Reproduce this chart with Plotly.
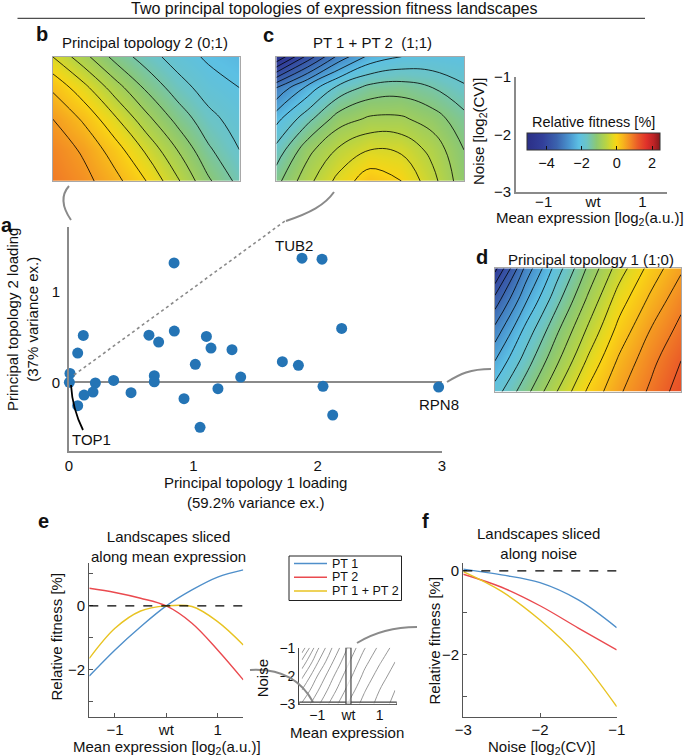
import plotly.graph_objects as go

W, H = 685, 756
FONT = "Liberation Sans, Arial, Helvetica, sans-serif"

# ---------------- data ----------------
# Panel a: gene loadings on the two principal topologies
pt1_loading = [0.845, 1.874, 2.035, 2.193, 0.115, 0.070, 0.643, 0.721, 0.847, 1.105,
               1.142, 1.311, 1.016, 1.716, 1.845, 0.008, 0.003, 0.212, 0.359, 0.686,
               0.686, 1.381, 0.499, 0.193, 0.121, 0.070, 0.925, 1.198, 2.043, 2.121,
               2.973, 1.054]
pt2_loading = [1.320, 1.372, 1.361, 0.596, 0.519, 0.324, 0.522, 0.445, 0.567, 0.508,
               0.379, 0.361, 0.199, 0.228, 0.188, 0.099, 0.000, -0.007, 0.022, 0.074,
               0.007, 0.059, -0.114, -0.107, -0.140, -0.258, -0.180, -0.070, -0.044, -0.361,
               -0.052, -0.497]
labelled_genes = {"TUB2": 1, "RPN8": 30, "TOP1": 16}

# Landscape grids (mean expression x noise)
mean_grid = [-1.5, -1.0, -0.5, 0.0, 0.5, 1.0, 1.5]
noise_grid = [-3.0, -2.5, -2.0, -1.5, -1.0]
pt1_landscape = [
    [-1.95, -1.3, -0.6, 0.05, 0.55, 0.95, 1.35],
    [-2.4, -1.65, -0.95, -0.25, 0.35, 0.8, 1.2],
    [-2.9, -2.0, -1.25, -0.55, 0.1, 0.6, 1.0],
    [-3.5, -2.45, -1.6, -0.85, -0.15, 0.35, 0.8],
    [-4.3, -2.9, -1.95, -1.15, -0.45, 0.1, 0.55],
]
pt2_landscape = [
    [0.9, 0.7, 0.4, 0.0, -0.55, -1.15, -1.6],
    [0.8, 0.55, 0.15, -0.35, -0.9, -1.45, -1.8],
    [0.6, 0.25, -0.25, -0.8, -1.3, -1.7, -1.95],
    [0.25, -0.2, -0.75, -1.25, -1.65, -1.95, -2.1],
    [-0.3, -0.8, -1.3, -1.65, -1.95, -2.15, -2.25],
]
pt12_landscape = [
    [-1.3, -0.7, -0.2, 0.2, 0.0, -0.5, -1.1],
    [-1.7, -1.0, -0.55, -0.3, -0.35, -0.7, -1.2],
    [-2.2, -1.6, -1.05, -0.85, -0.85, -1.05, -1.4],
    [-3.0, -2.3, -1.7, -1.4, -1.35, -1.5, -1.75],
    [-4.8, -3.8, -2.9, -2.3, -2.1, -2.05, -2.1],
]

# Panel e: slices along mean expression (noise = -3)
slice_mean = [-1.5, -1.0, -0.5, 0.0, 0.5, 1.0, 1.5]
slice_mean_pt1 = [-2.19, -1.375, -0.65, 0.0, 0.5, 0.9, 1.125]
slice_mean_pt2 = [0.55, 0.42, 0.24, 0.0, -0.54, -1.375, -2.31]
slice_mean_pt12 = [-1.64, -0.70, -0.16, 0.0, -0.02, -0.49, -1.22]
# Panel f: slices along noise (mean = wt)
slice_noise = [-3.0, -2.5, -2.0, -1.5, -1.0]
slice_noise_pt1 = [0.04, -0.095, -0.28, -0.69, -1.35]
slice_noise_pt2 = [-0.08, -0.39, -0.83, -1.36, -1.88]
slice_noise_pt12 = [-0.02, -0.49, -1.17, -2.04, -3.23]

series_names = ["PT 1", "PT 2", "PT 1 + PT 2"]
series_colors = ["#4f8fca", "#ea4a4f", "#e8c322"]

# ---------------- style helpers ----------------
ZMIN, ZMAX = -5.1, 2.46
stops = [(-5.1, '#2b2f86'), (-4.2, '#323f9a'), (-3.4, '#3b63ae'), (-2.7, '#4a95cf'),
         (-2.15, '#5cc0e4'), (-1.7, '#6cc4c6'), (-1.15, '#8cc873'), (-0.6, '#b9d443'),
         (-0.2, '#e6d820'), (0.0, '#f9d416'), (0.35, '#f7b51d'), (0.75, '#f38b24'),
         (1.2, '#ea5a28'), (1.7, '#e0302a'), (2.1, '#bd2326'), (2.46, '#85191c')]
colorscale = [[(v - ZMIN) / (ZMAX - ZMIN), c] for v, c in stops]
colorscale[-1][0] = 1.0

GRAY = '#8a8a8a'
AX = '#555555'


def dx(x0, x1):
    return [x0 / W, x1 / W]


def dy(top, bot):
    return [1 - bot / H, 1 - top / H]


def px(x, y):
    return f"{x / W:.5f},{1 - y / H:.5f}"


def tf(size=15):
    return dict(family=FONT, size=size, color='#111')


fig = go.Figure()

# Panel a scatter
fig.add_trace(go.Scatter(x=pt1_loading, y=pt2_loading, mode='markers',
                         marker=dict(size=11, color='#2474b5'), cliponaxis=False,
                         xaxis='x', yaxis='y', showlegend=False, hoverinfo='skip'))

contour_levels = dict(start=-6, end=3, size=0.3)
for grid, ax in [(pt2_landscape, '2'), (pt12_landscape, '3'), (pt1_landscape, '4')]:
    fig.add_trace(go.Heatmap(x=mean_grid, y=noise_grid, z=grid, zsmooth='best',
                             coloraxis='coloraxis', xaxis='x' + ax, yaxis='y' + ax,
                             hoverinfo='skip'))
    fig.add_trace(go.Contour(x=mean_grid, y=noise_grid, z=grid, contours=contour_levels,
                             contours_coloring='none', line=dict(color='black', width=0.8, smoothing=1.2),
                             showscale=False, xaxis='x' + ax, yaxis='y' + ax, hoverinfo='skip'))

# key axes (empty)
fig.add_trace(go.Scatter(x=[None], y=[None], xaxis='x5', yaxis='y5', showlegend=False))

# Panel e
for ys, name, col in zip([slice_mean_pt1, slice_mean_pt2, slice_mean_pt12], series_names, series_colors):
    fig.add_trace(go.Scatter(x=slice_mean, y=ys, mode='lines', name=name,
                             line=dict(color=col, width=1.4, shape='spline', smoothing=1),
                             xaxis='x6', yaxis='y6', showlegend=False, hoverinfo='skip'))

# inset contour (PT1 landscape)
fig.add_trace(go.Contour(x=mean_grid, y=noise_grid, z=pt1_landscape, contours=dict(start=-6, end=3, size=0.4),
                         contours_coloring='none', line=dict(color='#8c8c8c', width=0.9, smoothing=1.2),
                         showscale=False, xaxis='x7', yaxis='y7', hoverinfo='skip'))

# Panel f
for ys, name, col in zip([slice_noise_pt1, slice_noise_pt2, slice_noise_pt12], series_names, series_colors):
    fig.add_trace(go.Scatter(x=slice_noise, y=ys, mode='lines', name=name,
                             line=dict(color=col, width=1.4, shape='spline', smoothing=1),
                             xaxis='x8', yaxis='y8', showlegend=False, hoverinfo='skip'))

hm_axis = dict(showticklabels=False, ticks='', showgrid=False, zeroline=False,
               showline=True, mirror=True, linecolor='#a8a8a8', linewidth=1)

layout = dict(
    width=W, height=H, margin=dict(l=0, r=0, t=0, b=0, pad=0),
    paper_bgcolor='white', plot_bgcolor='white', font=dict(family=FONT, size=15, color='#111'),
    showlegend=False,
    coloraxis=dict(colorscale=colorscale, cmin=ZMIN, cmax=ZMAX,
                   colorbar=dict(orientation='h', x=593.6 / W, xanchor='center', y=1 - 132.7 / H,
                                 yanchor='top', len=132.7, lenmode='pixels', thickness=16.6,
                                 thicknessmode='pixels', xpad=0, ypad=0, outlinewidth=1,
                                 outlinecolor='#333', ticks='inside', ticklen=4, tickcolor='#111',
                                 tickvals=[-4, -2, 0, 2], ticktext=['−4', '−2', '0', '2'],
                                 tickfont=tf(14.5), title=dict(text=''))),
    xaxis=dict(domain=dx(69, 442), range=[0, 3], anchor='y', showline=True, linecolor=GRAY,
               linewidth=1.6, ticks='', tickvals=[0, 1, 2, 3], showgrid=False, zeroline=False,
               tickfont=tf(), automargin=False),
    yaxis=dict(domain=dy(226.7, 450.7), range=[-0.755, 1.72], anchor='x', showline=True,
               linecolor=GRAY, linewidth=1.6, ticks='', tickvals=[0, 1], showgrid=False,
               zeroline=True, zerolinecolor=GRAY, zerolinewidth=1.6, tickfont=tf(),
               ticklabelstandoff=4, automargin=False),
    xaxis2=dict(domain=dx(52.6, 239.5), range=[-1.5, 1.5], anchor='y2', **hm_axis),
    yaxis2=dict(domain=dy(56.7, 181), range=[-3, -1], anchor='x2', **hm_axis),
    xaxis3=dict(domain=dx(276.3, 464), range=[-1.5, 1.5], anchor='y3', **hm_axis),
    yaxis3=dict(domain=dy(56.7, 181), range=[-3, -1], anchor='x3', **hm_axis),
    xaxis4=dict(domain=dx(495, 681), range=[-1.5, 1.5], anchor='y4', **hm_axis),
    yaxis4=dict(domain=dy(268.3, 391.7), range=[-3, -1], anchor='x4', **hm_axis),
    xaxis5=dict(domain=dx(516, 666.7), range=[-1.56, 1.49], anchor='y5', showline=True,
                linecolor=GRAY, linewidth=1.6, ticks='', tickvals=[-1, 0, 1],
                ticktext=['−1', 'wt', '1'], showgrid=False, zeroline=False, tickfont=tf(),
                ticklabelstandoff=-5, automargin=False),
    yaxis5=dict(domain=dy(76.7, 192), range=[-3, -1], anchor='x5', showline=True,
                linecolor=GRAY, linewidth=1.6, ticks='', tickvals=[-3, -2, -1],
                ticktext=['−3', '−2', '−1'], showgrid=False, zeroline=False, tickfont=tf(),
                automargin=False),
    xaxis6=dict(domain=dx(89.3, 243.3), range=[-1.5, 1.5], anchor='y6', showline=True,
                linecolor=AX, linewidth=1.2, ticks='inside', ticklen=4, tickcolor=AX,
                tickvals=[-1, 0, 1], ticktext=['−1', 'wt', '1'], showgrid=False, zeroline=False,
                tickfont=tf(), ticklabelstandoff=-1, automargin=False),
    yaxis6=dict(domain=dy(563, 717.3), range=[-3.48, 1.34], anchor='x6', showline=True,
                linecolor=AX, linewidth=1.2, ticks='inside', ticklen=4, tickcolor=AX,
                tickvals=[-3, -2, -1, 0, 1], ticktext=['', '−2', '', '0', ''], showgrid=False,
                zeroline=False, tickfont=tf(), automargin=False),
    xaxis7=dict(domain=dx(299.3, 396.7), range=[-1.58, 1.55], anchor='y7', showline=True,
                linecolor='#444', linewidth=1.2, ticks='', tickvals=[-1, 0, 1],
                ticktext=['−1', 'wt', '1'], showgrid=False, zeroline=False, tickfont=tf(14),
                ticklabelstandoff=-2, automargin=False),
    yaxis7=dict(domain=dy(647.7, 704.3), range=[-3, -1], anchor='x7', showline=True,
                linecolor='#444', linewidth=1.2, ticks='', tickvals=[-3, -2, -1],
                ticktext=['−3', '−2', '−1'], showgrid=False, zeroline=False, tickfont=tf(14),
                automargin=False),
    xaxis8=dict(domain=dx(463.3, 616.7), range=[-3, -1], anchor='y8', showline=True,
                linecolor=AX, linewidth=1.2, ticks='inside', ticklen=4, tickcolor=AX,
                tickvals=[-3, -2, -1], ticktext=['−3', '−2', '−1'], showgrid=False,
                zeroline=False, tickfont=tf(), ticklabelstandoff=-1, automargin=False),
    yaxis8=dict(domain=dy(563.3, 716.7), range=[-3.47, 0.18], anchor='x8', showline=True,
                linecolor=AX, linewidth=1.2, ticks='inside', ticklen=4, tickcolor=AX,
                tickvals=[-3, -2, -1, 0], ticktext=['', '−2', '', '0'], showgrid=False,
                zeroline=False, tickfont=tf(), automargin=False),
)
fig.update_layout(**layout)

# ---------------- shapes ----------------
shapes = []


def path(d, color=GRAY, width=2, dash='solid'):
    shapes.append(dict(type='path', path=d, xref='paper', yref='paper',
                       line=dict(color=color, width=width, dash=dash)))


# top rule
shapes.append(dict(type='line', xref='paper', yref='paper', x0=17.5 / W, x1=645 / W,
                   y0=1 - 18.3 / H, y1=1 - 18.3 / H, line=dict(color='#222', width=1)))
# connectors
path(f"M {px(71, 220)} C {px(62, 207)} {px(61, 195)} {px(69, 186)}")
path(f"M {px(74, 375)} L {px(285, 221)}", width=1.6, dash='dot')
path(f"M {px(286, 221)} C {px(310, 213)} {px(325, 205)} {px(334, 192)}")
path(f"M {px(447, 382)} C {px(460, 374)} {px(470, 369)} {px(491, 369)}")
path(f"M {px(71, 385)} C {px(72, 402)} {px(76, 416)} {px(83, 430)}", color='black', width=1.8)
path(f"M {px(250, 670)} C {px(282, 668)} {px(302, 682)} {px(313, 702)}")
path(f"M {px(357, 643)} C {px(375, 632)} {px(395, 627)} {px(417, 627)}")
# zero reference lines in e and f
for ax in ['6', '8']:
    shapes.append(dict(type='line', xref=f'x{ax} domain', x0=0, x1=1, yref=f'y{ax}', y0=0, y1=0,
                       line=dict(color='black', width=1.2, dash='dash')))
# inset slice bars
shapes.append(dict(type='rect', xref='x7', yref='y7', x0=-1.58, x1=1.55, y0=-3.05, y1=-2.92,
                   line=dict(color='#444', width=1.2), fillcolor='rgba(255,255,255,0.7)'))
shapes.append(dict(type='rect', xref='x7', yref='y7', x0=-0.08, x1=0.08, y0=-3.0, y1=-1.0,
                   line=dict(color='#444', width=1.2), fillcolor='rgba(255,255,255,0.7)'))
# legend box
shapes.append(dict(type='rect', xref='paper', yref='paper', x0=289 / W, x1=401.5 / W,
                   y0=1 - 600.5 / H, y1=1 - 556 / H, line=dict(color='#222', width=1),
                   fillcolor='white'))
legend_y = [563.5, 577.2, 591]
for yy, col in zip(legend_y, series_colors):
    shapes.append(dict(type='line', xref='paper', yref='paper', x0=294 / W, x1=327 / W,
                       y0=1 - yy / H, y1=1 - yy / H, line=dict(color=col, width=1.4)))
fig.update_layout(shapes=shapes)

# ---------------- annotations ----------------
ann = []


def text(x, y, s, size=15, bold=False, angle=0, xanchor='center'):
    ann.append(dict(x=x / W, y=1 - y / H, xref='paper', yref='paper', text=f"<b>{s}</b>" if bold else s,
                    showarrow=False, xanchor=xanchor, yanchor='middle', textangle=angle,
                    font=dict(family=FONT, size=size, color='#111')))


text(334, 8, "Two principal topologies of expression fitness landscapes", 16)
text(41.5, 34, "b", 20, True)
text(144.5, 42.7, "Principal topology 2 (0;1)")
text(268, 35, "c", 20, True)
text(372, 42.7, "PT 1 + PT 2\u00a0 (1;1)")
text(593.8, 122.5, "Relative fitness [%]", 14.5)
text(480, 131, "Noise [log<sub>2</sub>(CV)]", angle=-90)
text(590, 218, "Mean expression [log<sub>2</sub>(a.u.)]")
text(7, 225, "a", 20, True)
text(22, 320, "Principal topology 2 loading<br>(37% variance ex.)", angle=-90)
text(255.5, 492.5, "Principal topology 1 loading<br>(59.2% variance ex.)")
text(481.7, 257, "d", 20, True)
text(590.5, 259.3, "Principal topology 1 (1;0)")
text(43, 521, "e", 20, True)
text(168, 546, "Landscapes sliced<br>along mean expression")
text(55.5, 637, "Relative fitness [%]", angle=-90)
text(166.5, 747.5, "Mean expression [log<sub>2</sub>(a.u.)]")
text(262.3, 678, "Noise", angle=-90)
text(346.7, 732.5, "Mean expression")
text(425, 521, "f", 20, True)
text(538.3, 543.5, "Landscapes sliced<br>along noise")
text(433.5, 641, "Relative fitness [%]", angle=-90)
text(541.7, 747.5, "Noise [log<sub>2</sub>(CV)]")
for yy, name in zip(legend_y, series_names):
    text(330, yy, name, 12.5, xanchor='left')

shifts = {"TUB2": (-7.6, 12.3), "RPN8": (0, -17.3), "TOP1": (22.3, -56.7)}
for name, idx in labelled_genes.items():
    sx, sy = shifts[name]
    ann.append(dict(x=pt1_loading[idx], y=pt2_loading[idx], xref='x', yref='y', text=name,
                    showarrow=False, xshift=sx, yshift=sy, xanchor='center', yanchor='middle',
                    font=dict(family=FONT, size=15, color='#111')))

fig.update_layout(annotations=ann)

# A tiny parser-blocking script clears the browser's default 8px body margin before layout,
# so the 685x756 figure sits exactly in the 685x756 window.
reset_margin = "data:text/javascript,document.body.style.margin='0px';//.js"
fig.write_html("out.html", include_plotlyjs=True, include_mathjax=reset_margin,
               config={'displayModeBar': False},
               post_script="document.body.style.margin='0px';")
